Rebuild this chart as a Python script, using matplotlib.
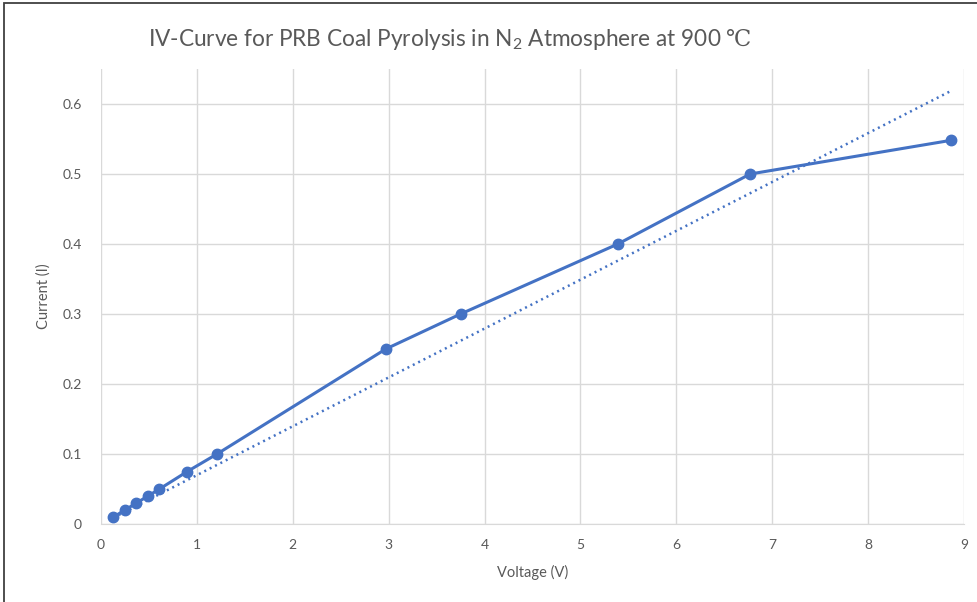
import numpy as np
import matplotlib
matplotlib.use('Agg')
import matplotlib.pyplot as plt
from matplotlib.patches import Rectangle

plt.rcParams['font.family'] = ['Lato', 'DejaVu Sans']
plt.rcParams['mathtext.fontset'] = 'custom'
plt.rcParams['mathtext.rm'] = 'Lato'
plt.rcParams['mathtext.it'] = 'Lato'
plt.rcParams['mathtext.sf'] = 'DejaVu Serif'

voltage = [0.13, 0.25, 0.37, 0.49, 0.61, 0.9, 1.21, 2.97, 3.75, 5.39, 6.77, 8.86]
current = [0.01, 0.02, 0.03, 0.04, 0.05, 0.075, 0.1, 0.25, 0.3, 0.4, 0.5, 0.548]
xticks = list(range(0, 10))
yticks = [0, 0.1, 0.2, 0.3, 0.4, 0.5, 0.6]
ytick_labels = ['0', '0.1', '0.2', '0.3', '0.4', '0.5', '0.6']

blue = '#4472C4'
grey = '#595959'

fig = plt.figure(figsize=(9.77, 6.02), dpi=100)
ax = fig.add_axes([101/977, 1-524/602, (964-101)/977, (524-69)/602])

# frame around the chart area (cut off at right/bottom)
fig.patches.append(Rectangle((4/977, -0.1), 1.1, 1 - 3/602 + 0.1, transform=fig.transFigure,
                             fill=False, edgecolor='#404040', linewidth=1.3))

ax.plot(voltage, current, color=blue, lw=2.2, marker='o', ms=7.5, zorder=3)

# linear trendline, intercept fixed at zero
x = np.array(voltage)
y = np.array(current)
k = np.sum(x*y) / np.sum(x*x)
xt = np.array([x.min(), x.max()])
ax.plot(xt, k*xt, color=blue, lw=1.8, ls=(0, (0.8, 1.6)), zorder=2)

ax.set_xlim(0, 9)
ax.set_ylim(0, 0.65)
ax.set_xticks(xticks)
ax.set_yticks(yticks)
ax.set_yticklabels(ytick_labels)
ax.grid(True, color='#d9d9d9', lw=1)
ax.set_axisbelow(True)
for s in ['top', 'right', 'left']:
    ax.spines[s].set_visible(False)
ax.spines['bottom'].set_color('#d9d9d9')
ax.tick_params(length=0, colors=grey, labelsize=10)
ax.tick_params(axis='x', pad=11)
ax.tick_params(axis='y', pad=14)

ax.set_xlabel('Voltage (V)', color=grey, fontsize=10.5, labelpad=10)
ax.set_ylabel('Current (I)', color=grey, fontsize=10.5, labelpad=8)

fig.text(450/977, 1-40/602,
         'IV-Curve for PRB Coal Pyrolysis in N$_2$ Atmosphere at 900 $\\mathsf{\u2103}$',
         ha='center', va='center', fontsize=16.3, color=grey)

fig.savefig('out.png', dpi=100)
